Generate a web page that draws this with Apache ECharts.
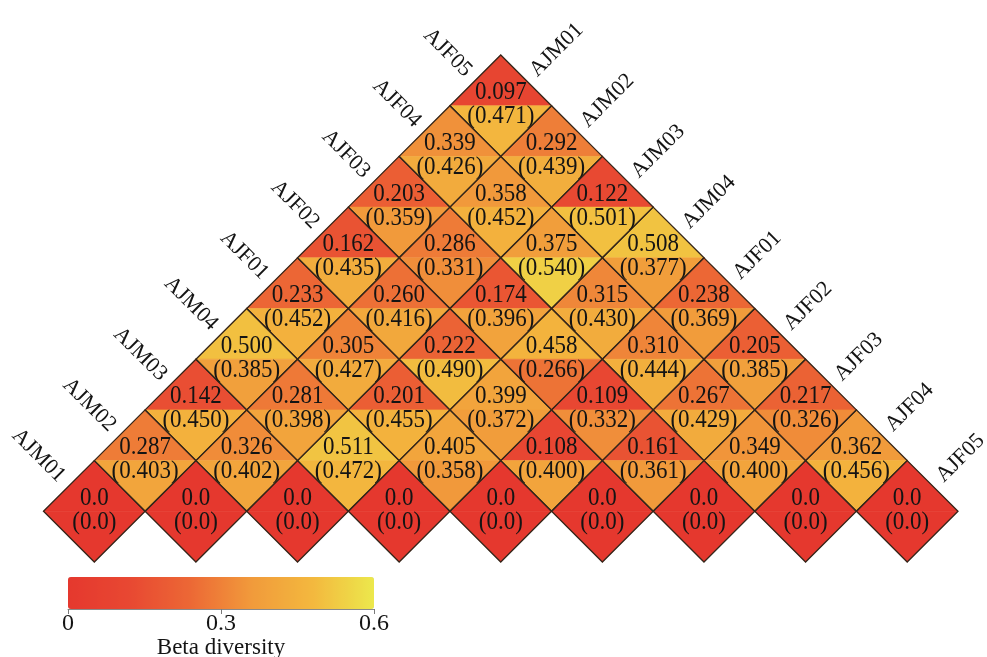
<!DOCTYPE html>
<html><head><meta charset="utf-8">
<script src="https://cdn.jsdelivr.net/npm/echarts@6/dist/echarts.min.js"></script>
<style>html,body{margin:0;padding:0;background:#fff}#chart{width:987px;height:657px}</style>
</head><body><div id="chart"></div>
<script>
// Samples (row k, position j => pair samples[j] x samples[j+k])
const samples = ['AJM01','AJM02','AJM03','AJM04','AJF01','AJF02','AJF03','AJF04','AJF05'];
// Beta diversity (first value) per row, bottom (diagonal) to top
const beta0 = [0,0,0,0,0,0,0,0,0];
const beta1 = [0.287,0.326,0.511,0.405,0.108,0.161,0.349,0.362];
const beta2 = [0.142,0.281,0.201,0.399,0.109,0.267,0.217];
const beta3 = [0.500,0.305,0.222,0.458,0.310,0.205];
const beta4 = [0.233,0.260,0.174,0.315,0.238];
const beta5 = [0.162,0.286,0.375,0.508];
const beta6 = [0.203,0.358,0.122];
const beta7 = [0.339,0.292];
const beta8 = [0.097];
// Bracketed values per row
const paren0 = [0,0,0,0,0,0,0,0,0];
const paren1 = [0.403,0.402,0.472,0.358,0.400,0.361,0.400,0.456];
const paren2 = [0.450,0.398,0.455,0.372,0.332,0.429,0.326];
const paren3 = [0.385,0.427,0.490,0.266,0.444,0.385];
const paren4 = [0.452,0.416,0.396,0.430,0.369];
const paren5 = [0.435,0.331,0.540,0.377];
const paren6 = [0.359,0.452,0.501];
const paren7 = [0.426,0.439];
const paren8 = [0.471];
const colorTicks = [0, 0.3, 0.6];
const colorTickLabels = ['0', '0.3', '0.6'];
const colorTitle = 'Beta diversity';

const betaRows = [beta0,beta1,beta2,beta3,beta4,beta5,beta6,beta7,beta8];
const parenRows = [paren0,paren1,paren2,paren3,paren4,paren5,paren6,paren7,paren8];

const upperData = [], lowerData = [], cellData = [];
betaRows.forEach((row, k) => {
  row.forEach((v, j) => {
    const cx = j + k / 2, cy = k;
    const p = parenRows[k][j];
    upperData.push([cx, cy, v]);
    lowerData.push([cx, cy, p]);
    cellData.push([cx, cy, v, p]);
  });
});
const labelData = samples.map((s, k) => [k]);

const FONT = '"Liberation Serif", "Times New Roman", serif';
function fmt(v) { return v === 0 ? '0.0' : v.toFixed(3); }

function halfRender(upper) {
  return function (params, api) {
    const cx = api.value(0), cy = api.value(1);
    const L = api.coord([cx - 0.5, cy]);
    const R = api.coord([cx + 0.5, cy]);
    const V = api.coord([cx, upper ? cy + 1 : cy - 1]);
    const c = api.visual('color');
    return { type: 'polygon', shape: { points: [L, V, R] },
      style: { fill: c, stroke: c, lineWidth: 0.6 } };
  };
}

function cellRender(params, api) {
  const cx = api.value(0), cy = api.value(1);
  const L = api.coord([cx - 0.5, cy]), R = api.coord([cx + 0.5, cy]);
  const T = api.coord([cx, cy + 1]), B = api.coord([cx, cy - 1]);
  const C = api.coord([cx, cy]);
  const ts = { fill: '#141414', font: '23px ' + FONT, align: 'center', verticalAlign: 'middle' };
  return { type: 'group', children: [
    { type: 'polygon', shape: { points: [L, T, R, B] },
      style: { fill: 'none', stroke: '#35261a', lineWidth: 1.3 } },
    { type: 'text', x: C[0], y: C[1] - 13, scaleY: 1.08, style: Object.assign({ text: fmt(api.value(2)) }, ts) },
    { type: 'text', x: C[0], y: C[1] + 11, scaleY: 1.08, style: Object.assign({ text: '(' + fmt(api.value(3)) + ')' }, ts) }
  ]};
}

function labelRender(params, api) {
  const k = api.value(0);
  const n = samples.length - 1;
  const lp = api.coord([k / 2 - 0.25, k + 0.5]);
  const rp = api.coord([n - k / 2 + 0.25, k + 0.5]);
  const off = 7;
  const ts = { fill: '#141414', font: '22px ' + FONT, verticalAlign: 'middle' };
  return { type: 'group', children: [
    { type: 'text', x: lp[0] - off, y: lp[1] - off, rotation: -Math.PI / 4,
      style: Object.assign({ text: samples[k], align: 'right' }, ts) },
    { type: 'text', x: rp[0] + off, y: rp[1] - off, rotation: Math.PI / 4,
      style: Object.assign({ text: samples[n - k], align: 'left' }, ts) }
  ]};
}

const chart = echarts.init(document.getElementById('chart'), null, { renderer: 'canvas' });
chart.setOption({
  backgroundColor: '#ffffff',
  animation: false,
  grid: [
    { left: 43.5, right: 29, top: 55, bottom: 95, outerBoundsMode: 'none', containLabel: false },
    { left: 68, top: 577, width: 306, height: 32, outerBoundsMode: 'none', containLabel: false }
  ],
  xAxis: [
    { type: 'value', min: -0.5, max: 8.5, show: false, gridIndex: 0 },
    { type: 'value', gridIndex: 1, min: 0, max: 0.6, interval: 0.3,
      axisLine: { show: true, lineStyle: { color: '#8a8a8a', width: 1 } },
      axisTick: { show: true, length: 5, lineStyle: { color: '#7a7a7a' } },
      splitLine: { show: false },
      axisLabel: { fontFamily: FONT, fontSize: 24, color: '#141414', margin: 3,
        formatter: v => { const i = colorTicks.findIndex(t => Math.abs(t - v) < 1e-9); return i >= 0 ? colorTickLabels[i] : ''; } },
      name: colorTitle, nameLocation: 'middle', nameGap: 27,
      nameTextStyle: { fontFamily: FONT, fontSize: 23, color: '#141414' } }
  ],
  yAxis: [
    { type: 'value', min: -1, max: 9, show: false, gridIndex: 0 },
    { type: 'value', min: 0, max: 1, show: false, gridIndex: 1 }
  ],
  visualMap: {
    type: 'continuous', min: 0, max: 0.6, orient: 'horizontal',
    left: 68, top: 577, itemWidth: 32, itemHeight: 306, padding: 0,
    calculable: false, text: null, showLabel: false, hoverLink: false,
    seriesIndex: [0, 1], dimension: 2,
    inRange: { color: ['#e5382e', '#e84832', '#ec6835', '#f19a3b', '#f3b83e', '#ece84c'] }
  },
  series: [
    { type: 'custom', name: 'upper', renderItem: halfRender(true), data: upperData, z: 1, silent: true },
    { type: 'custom', name: 'lower', renderItem: halfRender(false), data: lowerData, z: 1, silent: true },
    { type: 'custom', name: 'cells', renderItem: cellRender, data: cellData, z: 3, silent: true },
    { type: 'custom', name: 'labels', renderItem: labelRender, data: labelData, z: 3, silent: true }
  ]
});
</script></body></html>
